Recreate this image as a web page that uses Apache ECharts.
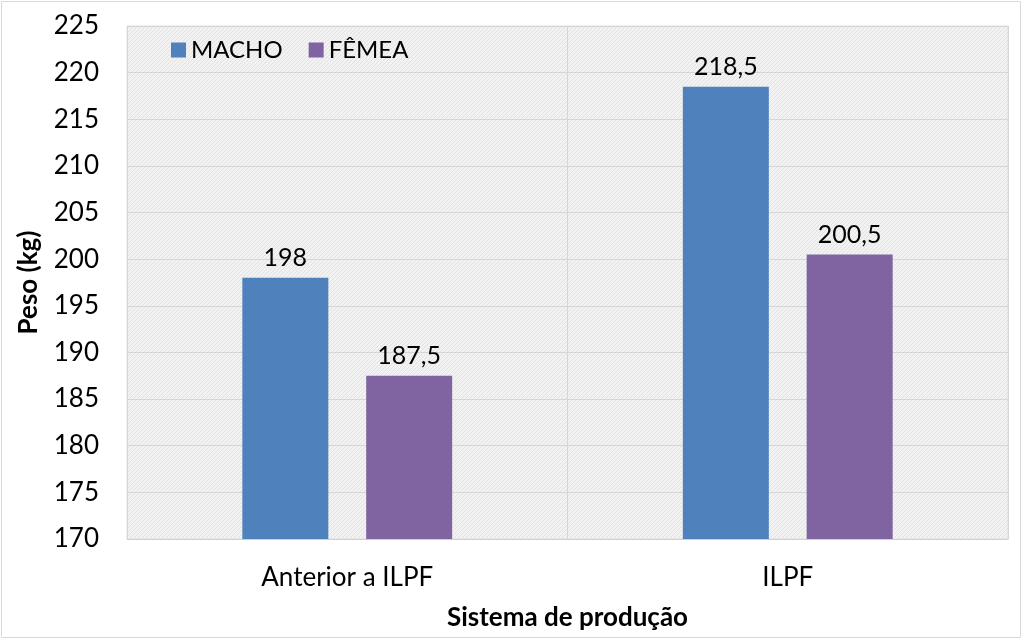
<!DOCTYPE html>
<html><head><meta charset="utf-8">
<script src="https://cdn.jsdelivr.net/npm/echarts@6/dist/echarts.min.js"></script>
<style>html,body{margin:0;padding:0;background:#fff}#c{width:1023px;height:640px}</style>
</head><body><div id="c"></div>
<script>
const categories = ['Anterior a ILPF', 'ILPF'];
const macho = [198, 218.5];
const femea = [187.5, 200.5];
const seriesNames = ['MACHO', 'FÊMEA'];

function hatch() {
  const c = document.createElement('canvas');
  c.width = 4; c.height = 4;
  const g = c.getContext('2d');
  g.fillStyle = '#f2f2f2'; g.fillRect(0, 0, 4, 4);
  g.fillStyle = '#e2e2e2';
  for (let i = 0; i < 4; i++) g.fillRect(3 - i, i, 1, 1);
  return c;
}
const FONT = 'Lato';
const chart = echarts.init(document.getElementById('c'));
const lbl = {show: true, position: 'top', fontSize: 25, color: '#000', fontFamily: FONT, distance: 7,
  formatter: p => String(p.value).replace('.', ',')};
chart.setOption({
  animation: false,
  textStyle: {fontFamily: FONT},
  graphic: [{type: 'rect', shape: {x: 1.5, y: 1.5, width: 1019, height: 636},
    style: {fill: 'none', stroke: '#d9d9d9', lineWidth: 1}}],
  grid: {left: 127, right: 15, top: 26, bottom: 101, show: true, containLabel: false, outerBoundsMode: 'none',
    backgroundColor: {image: hatch(), repeat: 'repeat'}, borderColor: '#e0e0e0', borderWidth: 1},
  legend: {left: 166, top: 33, itemWidth: 15, itemHeight: 15, itemGap: 26,
    textStyle: {fontSize: 24, color: '#000', fontFamily: FONT},
    data: [{name: seriesNames[0], icon: 'rect'}, {name: seriesNames[1], icon: 'rect'}]},
  xAxis: {type: 'category', data: categories,
    name: 'Sistema de produção', nameLocation: 'middle', nameGap: 66,
    nameTextStyle: {fontSize: 26, fontWeight: 'bold', color: '#000', fontFamily: FONT},
    axisLine: {lineStyle: {color: '#d0d0d0'}}, axisTick: {show: false},
    axisLabel: {fontSize: 26, color: '#000', margin: 26, fontFamily: FONT},
    splitLine: {show: true, lineStyle: {color: '#d6d6d6'}}},
  yAxis: {type: 'value', min: 170, max: 225, interval: 5,
    name: 'Peso (kg)', nameLocation: 'middle', nameGap: 85,
    nameTextStyle: {fontSize: 26, fontWeight: 'bold', color: '#000', fontFamily: FONT},
    axisLine: {show: false}, axisTick: {show: false},
    axisLabel: {fontSize: 26, color: '#000', margin: 28, fontFamily: FONT},
    splitLine: {lineStyle: {color: '#d6d6d6'}}},
  series: [
    {name: seriesNames[0], type: 'bar', data: macho, barWidth: 86, barGap: '44%',
      itemStyle: {color: '#4F81BD'}, label: lbl},
    {name: seriesNames[1], type: 'bar', data: femea, barWidth: 86,
      itemStyle: {color: '#8064A2'}, label: lbl}
  ]
});
</script></body></html>
